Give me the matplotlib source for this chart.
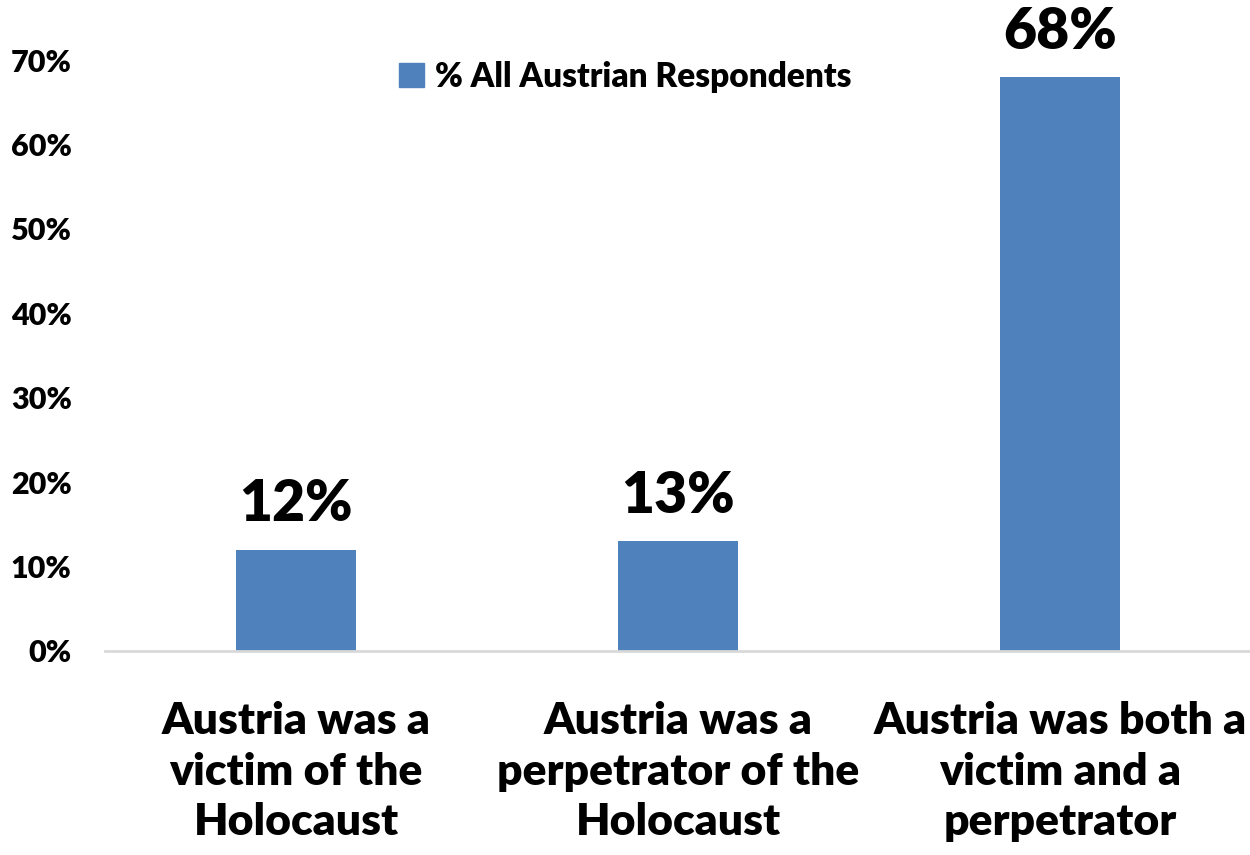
import numpy as np
import matplotlib.pyplot as plt
from matplotlib.patches import Patch

categories = ['Austria was a\nvictim of the\nHolocaust',
              'Austria was a\nperpetrator of the\nHolocaust',
              'Austria was both a\nvictim and a\nperpetrator']
values = [0.12, 0.13, 0.68]
series_name = '% All Austrian Respondents'
yticks = [0.0, 0.1, 0.2, 0.3, 0.4, 0.5, 0.6, 0.7]

plt.rcParams['font.family'] = ['Lato', 'DejaVu Sans']
plt.rcParams['font.weight'] = 'heavy'

fig = plt.figure(figsize=(12.5, 8.55), dpi=100)
ax = fig.add_axes([0.084, 0.2386, 0.9168, 0.691])

x = np.arange(len(categories))
ax.bar(x, values, width=0.314, color='#4F81BD')

for xi, v in zip(x, values):
    ax.text(xi, v + 0.023, f'{v:.0%}', ha='center', va='bottom',
            fontsize=41, fontweight='heavy', clip_on=False)

ax.set_xlim(-0.5, 2.5)
ax.set_ylim(0, 0.7)
ax.set_yticks(yticks)
ax.set_yticklabels([f'{t:.0%}' for t in yticks], fontsize=22, fontweight='heavy')
ax.set_xticks(x)
ax.set_xticklabels(categories, fontsize=32, fontweight='heavy', linespacing=1.32)
ax.tick_params(axis='y', length=0, pad=24)
ax.tick_params(axis='x', length=0, pad=36)

for s in ['top', 'right', 'left']:
    ax.spines[s].set_visible(False)
ax.spines['bottom'].set_color('#D9D9D9')
ax.spines['bottom'].set_linewidth(2)

leg = ax.legend(handles=[Patch(color='#4F81BD', label=series_name)],
                loc='upper left', bbox_to_anchor=(0.23, 1.05), frameon=False,
                fontsize=24, handlelength=0.75, handleheight=0.75, handletextpad=0.35)
for t in leg.get_texts():
    t.set_fontweight('heavy')

fig.savefig('out.png', dpi=100)
